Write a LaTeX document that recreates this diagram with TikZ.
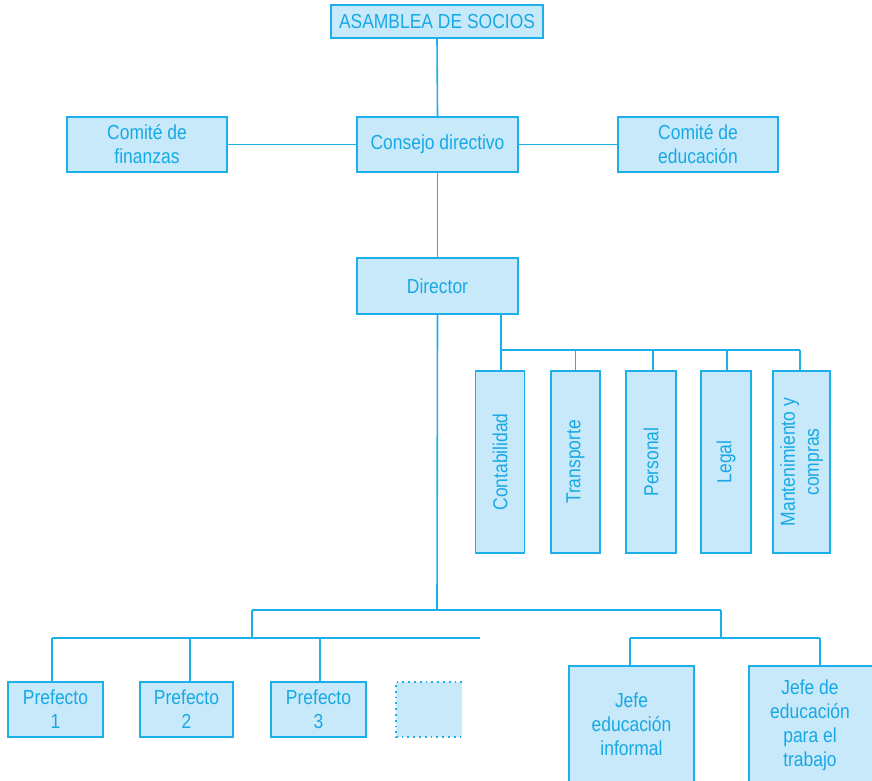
\documentclass[tikz,border=0pt]{standalone}
\usepackage{fontspec}
\setmainfont{Liberation Sans}[FakeStretch=0.86]
\definecolor{lineblue}{HTML}{1DAFE9}
\definecolor{fillblue}{HTML}{C8E9F9}
\definecolor{txtblue}{HTML}{16A9E6}
\begin{document}
\begin{tikzpicture}[x=1pt,y=-1pt,
  box/.style={draw=lineblue,fill=fillblue,line width=1.6pt,text=txtblue,
    inner sep=0pt,align=center,font=\fontsize{20.3}{24}\selectfont},
  vbox/.style={box,rotate=90},
  lbl/.style={text=txtblue,align=center,font=\fontsize{20.3}{24}\selectfont},
  conn/.style={draw=lineblue,line width=1.6pt}]
\useasboundingbox (0,0) rectangle (872,781);
\begin{scope}
\clip (0,0) rectangle (872,781);
% top levels
\node[box,minimum width=212pt,minimum height=33pt] (asamblea) at (437,21.5) {ASAMBLEA DE SOCIOS};
\node[box,minimum width=161pt,minimum height=55pt] (consejo) at (437.5,144.5) {Consejo directivo};
\node[box,minimum width=160pt,minimum height=55pt] (finanzas) at (147,144.5) {Comité de\\finanzas};
\node[box,minimum width=160pt,minimum height=55pt] (educ) at (698,144.5) {Comité de\\educación};
\node[box,minimum width=161pt,minimum height=56pt] (director) at (437.5,286) {Director};
% vertical boxes
\node[vbox,minimum width=182pt,minimum height=49pt] (contab) at (500,462) {Contabilidad};
\node[vbox,minimum width=182pt,minimum height=49pt] (transp) at (575.5,462) {Transporte};
\node[vbox,minimum width=182pt,minimum height=50pt] (personal) at (651,462) {Personal};
\node[vbox,minimum width=182pt,minimum height=50pt] (legal) at (726,462) {Legal};
\node[vbox,minimum width=182pt,minimum height=57pt] (mant) at (801.5,462) {Mantenimiento y\\compras};
% prefects
\node[box,minimum width=95pt,minimum height=55pt] (p1) at (55.5,709.5) {Prefecto\\1};
\node[box,minimum width=93pt,minimum height=55pt] (p2) at (186.5,709.5) {Prefecto\\2};
\node[box,minimum width=95pt,minimum height=55pt] (p3) at (318.5,709.5) {Prefecto\\3};
\node[inner sep=0pt,minimum width=66pt,minimum height=55pt,fill=fillblue] (p4) at (429,709.5) {};
\draw[lineblue,line width=2.4pt,dash pattern=on 1.8pt off 4pt]
  (p4.north east) -- (p4.north west) -- (p4.south west) -- (p4.south east);
% jefes
\node[box,minimum width=125pt,minimum height=120pt] (jefe1) at (631.5,726) {};
\node[lbl] (jefe1t) at (631.5,724) {Jefe\\educación\\informal};
\node[box,minimum width=124pt,minimum height=120pt] (jefe2) at (811,726) {};
\node[lbl] (jefe2t) at (810,725) {Jefe de\\educación\\para el\\trabajo};
% coordinates
\coordinate (bus1) at (501,350);
\coordinate (bus1e) at (800,350);
\coordinate (bus2) at (437,610);
\coordinate (bus2l) at (252,610);
\coordinate (bus2r) at (721,610);
\coordinate (bus3l) at (52,638);
\coordinate (bus3r) at (480,638);
\coordinate (bus4l) at (630,638);
\coordinate (bus4r) at (820,638);
\coordinate (d2) at (190,638);
\coordinate (d3) at (320,638);
\coordinate (d4) at (653,350);
\coordinate (d5) at (727,350);
% connectors
\draw[conn] (asamblea.south) -- (consejo.north);
\draw[conn] (finanzas.east) -- (consejo.west);
\draw[conn] (consejo.east) -- (educ.west);
\draw[conn] (consejo.south) -- (director.north);
\draw[conn] (bus1 |- director.south) -- (bus1) -- (bus1e);
\draw[conn] (bus1) -- (bus1 |- contab.east);
\draw[conn] (transp.east |- bus1) -- (transp.east);
\draw[conn] (d4) -- (d4 |- personal.east);
\draw[conn] (d5) -- (d5 |- legal.east);
\draw[conn] (bus1e) -- (bus1e |- mant.east);
\draw[conn] (director.south) -- (bus2);
\draw[conn] (bus2l) -- (bus2r);
\draw[conn] (bus2l) -- (bus2l |- bus3l);
\draw[conn] (bus3l) -- (bus3r);
\draw[conn] (bus3l) -- (bus3l |- p1.north);
\draw[conn] (d2) -- (d2 |- p2.north);
\draw[conn] (d3) -- (d3 |- p3.north);
\draw[conn] (bus2r) -- (bus2r |- bus4l);
\draw[conn] (bus4l) -- (bus4r);
\draw[conn] (bus4l) -- (bus4l |- jefe1.north);
\draw[conn] (bus4r) -- (bus4r |- jefe2.north);
\end{scope}
\end{tikzpicture}
\end{document}
